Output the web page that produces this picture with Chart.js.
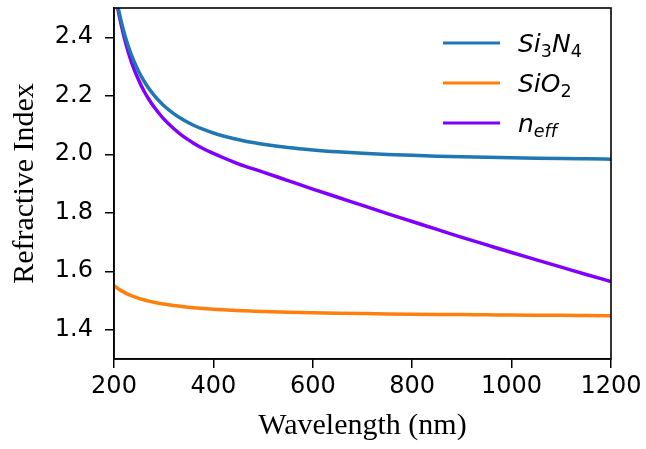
<!DOCTYPE html>
<html>
<head>
<meta charset="utf-8">
<script src="https://cdn.jsdelivr.net/npm/chart.js@4"></script>
<style>
  body { margin: 0; background: #fff; }
  #wrap { width: 646px; height: 449px; }
</style>
</head>
<body>
<div id="wrap"><canvas id="indexChart"></canvas></div>
<script>
// wavelength grid (nm) and refractive indices
const wavelengths = [200, 210, 220, 230, 240, 250, 260, 270, 280, 290, 300, 320, 340, 360, 380, 400, 420, 440, 460, 480, 500,
    550, 600, 650, 700, 750, 800, 850, 900, 950, 1000, 1050, 1100, 1150, 1200];
const si3n4 = [2.5780, 2.4880, 2.4183, 2.3632, 2.3187, 2.2818, 2.2512, 2.2252, 2.2028, 2.1836, 2.1667, 2.1389, 2.1169, 2.0992, 2.0847, 2.0726, 2.0625, 2.0538, 2.0464, 2.0400, 2.0344,
    2.0232, 2.0149, 2.0085, 2.0035, 1.9995, 1.9962, 1.9935, 1.9913, 1.9894, 1.9878, 1.9864, 1.9852, 1.9842, 1.9833];
const sio2 = [1.5505, 1.5384, 1.5285, 1.5202, 1.5133, 1.5075, 1.5024, 1.4980, 1.4942, 1.4908, 1.4878, 1.4828, 1.4787, 1.4753, 1.4725, 1.4701, 1.4681, 1.4664, 1.4648, 1.4635, 1.4623,
    1.4599, 1.4580, 1.4565, 1.4553, 1.4542, 1.4533, 1.4525, 1.4518, 1.4511, 1.4504, 1.4498, 1.4492, 1.4486, 1.4481];
const nEff = [2.573, 2.478, 2.403, 2.342, 2.293, 2.252, 2.217, 2.188, 2.163, 2.141, 2.121, 2.088, 2.060, 2.038, 2.019, 2.003, 1.988, 1.974, 1.961, 1.950, 1.939,
    1.910, 1.881, 1.853, 1.825, 1.797, 1.770, 1.743, 1.716, 1.690, 1.664, 1.639, 1.614, 1.589, 1.565];

const seriesLabels = ["Si_3N_4", "SiO_2", "n_{eff}"];
const seriesColors = ["#1f77b4", "#ff7f0e", "#7f00ff"];
const xTicks = [200, 400, 600, 800, 1000, 1200];
const yTicks = [1.4, 1.6, 1.8, 2.0, 2.2, 2.4];

const toPoints = (ys) => wavelengths.map((x, i) => ({ x: x, y: ys[i] }));

// split "SiO_2" / "n_{eff}" into normal and subscript pieces
function parseMath(label) {
    const parts = [];
    let i = 0;
    while (i < label.length) {
        if (label[i] === "_") {
            let sub;
            if (label[i + 1] === "{") {
                const end = label.indexOf("}", i);
                sub = label.slice(i + 2, end);
                i = end + 1;
            } else {
                sub = label[i + 1];
                i += 2;
            }
            for (const ch of sub) parts.push({ text: ch, sub: true });
        } else {
            parts.push({ text: label[i], sub: false });
            i++;
        }
    }
    return parts;
}

function drawMath(ctx, label, x, y) {
    ctx.fillStyle = "#000";
    ctx.textBaseline = "alphabetic";
    ctx.textAlign = "left";
    for (const p of parseMath(label)) {
        const size = p.sub ? 17.5 : 25;
        const style = /[0-9]/.test(p.text) ? "" : "italic ";
        ctx.font = style + size + "px 'DejaVu Sans'";
        ctx.fillText(p.text, x, p.sub ? y + 5 : y);
        x += ctx.measureText(p.text).width;
    }
}

const framePlugin = {
    id: "frame",
    afterDraw(chart) {
        const { ctx, chartArea } = chart;
        ctx.save();
        ctx.strokeStyle = "#000";
        ctx.lineWidth = 1.6;
        ctx.strokeRect(chartArea.left, chartArea.top, chartArea.right - chartArea.left, chartArea.bottom - chartArea.top);
        ctx.restore();
    }
};

const mathLegend = {
    id: "mathLegend",
    afterDraw(chart) {
        const { ctx, chartArea } = chart;
        chart.data.datasets.forEach((ds, i) => {
            const y = chartArea.top + 35 + i * 40;
            ctx.save();
            ctx.strokeStyle = ds.borderColor;
            ctx.lineWidth = 2.8;
            ctx.beginPath();
            ctx.moveTo(chartArea.right - 168, y);
            ctx.lineTo(chartArea.right - 111, y);
            ctx.stroke();
            drawMath(ctx, ds.label, chartArea.right - 93, y + 9);
            ctx.restore();
        });
    }
};

const indexChart = document.getElementById("indexChart");

new Chart(indexChart, {
    type: "line",
    data: {
        datasets: [si3n4, sio2, nEff].map((ys, i) => ({
            label: seriesLabels[i],
            data: toPoints(ys),
            borderColor: seriesColors[i],
            borderWidth: 3.5,
            pointRadius: 0,
            cubicInterpolationMode: "monotone",
            clip: 0
        }))
    },
    options: {
        responsive: true,
        maintainAspectRatio: false,
        animation: false,
        layout: { padding: { top: 8, right: 35, left: 0, bottom: 0 } },
        plugins: {
            legend: { display: false },
            tooltip: { enabled: false }
        },
        scales: {
            x: {
                type: "linear",
                min: 200,
                max: 1200,
                afterBuildTicks: (s) => { s.ticks = xTicks.map((v) => ({ value: v })); },
                afterFit: (s) => {
                    s.height = 90;
                    s.paddingLeft = 0;
                    s.paddingRight = 0;
                },
                grid: { drawOnChartArea: false, color: "#000", lineWidth: 1.5, tickLength: 9 },
                border: { color: "#000", width: 1.6 },
                ticks: {
                    color: "#000",
                    font: { family: "DejaVu Sans", size: 24 },
                    padding: 4,
                    maxRotation: 0,
                    callback: (v) => String(v)
                },
                title: {
                    display: true,
                    text: "Wavelength (nm)",
                    color: "#000",
                    font: { family: "Liberation Serif", size: 30 },
                    padding: { top: 0, bottom: 5 }
                }
            },
            y: {
                min: 1.3,
                max: 2.5,
                afterBuildTicks: (s) => { s.ticks = yTicks.map((v) => ({ value: v })); },
                afterFit: (s) => {
                    s.width = 114;
                    s.paddingTop = 0;
                    s.paddingBottom = 0;
                },
                grid: { drawOnChartArea: false, color: "#000", lineWidth: 1.5, tickLength: 9 },
                border: { color: "#000", width: 1.6 },
                ticks: {
                    color: "#000",
                    font: { family: "DejaVu Sans", size: 24 },
                    padding: 12,
                    callback: (v) => v.toFixed(1)
                },
                title: {
                    display: true,
                    text: "Refractive Index",
                    color: "#000",
                    font: { family: "Liberation Serif", size: 30 },
                    padding: { top: 7, bottom: 0 }
                }
            }
        }
    },
    plugins: [framePlugin, mathLegend]
});
</script>
</body>
</html>
